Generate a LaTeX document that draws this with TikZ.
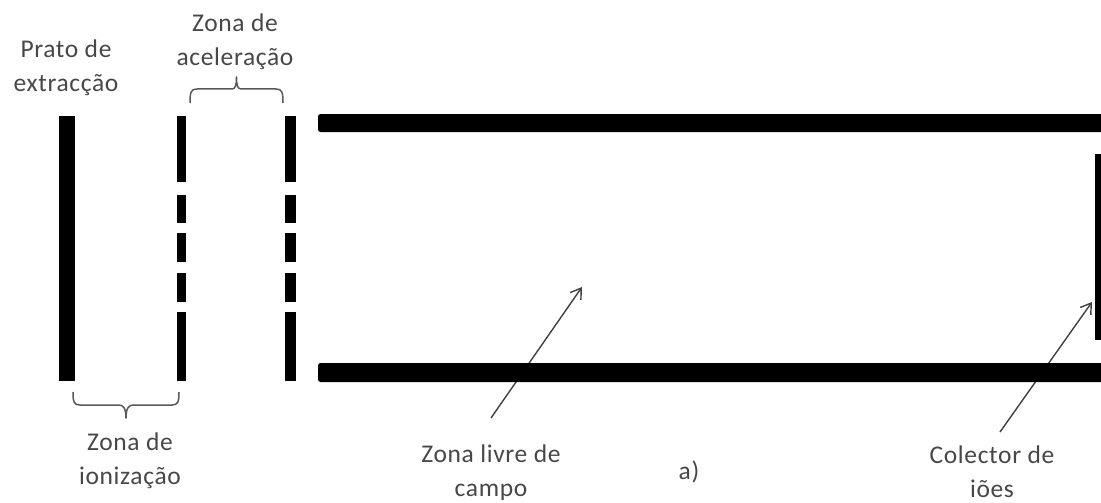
\documentclass[tikz,border=0pt]{standalone}
\usepackage{fontspec}
\setmainfont[LetterSpace=2.5]{Carlito}
\usetikzlibrary{arrows.meta}
\begin{document}
\begin{tikzpicture}[x=1pt,y=-1pt,
  plate/.style={fill=black,draw=none},
  bar/.style={fill=black,draw=none,rounded corners=2.5pt},
  lbl/.style={font=\fontsize{25.5}{34}\selectfont,text=black!72,align=center,inner sep=0pt,anchor=center},
  pointer/.style={draw=black!75,line width=1.4pt,-{Straight Barb[length=10pt,width=13pt,line width=1.4pt]}},
  brc/.style={draw=black!65,line width=1.5pt,line join=round}]
\useasboundingbox (0,0) rectangle (1101,503);
% pointers lie behind the bars
\coordinate (fieldtail) at (491,418);
\coordinate (fieldhead) at (582,287);
\coordinate (colltail) at (1000,432);
\coordinate (collhead) at (1092,302);
\draw[pointer] (fieldtail) -- (fieldhead);
\draw[pointer] (colltail) -- (collhead);
% extraction plate
\fill[plate] (59,116) rectangle (75,380.5);
% ionisation grid
\foreach \a/\b in {116/182,195/222.5,233/262,273/301.5,312/380.5}{
  \fill[plate] (177,\a) rectangle (186,\b);
  \fill[plate] (285,\a) rectangle (296,\b);
}
% tube
\fill[bar] (318,114) rectangle (1110,132);
\fill[bar] (318,363) rectangle (1110,382);
\fill[plate] (1095,154) rectangle (1101,340);
% braces
\draw[brc] (190,103) .. controls (190,92) and (191,89) .. (197,89) -- (232,89) .. controls (235,89) and (236.5,86) .. (236.5,77)
  .. controls (236.5,86) and (238,89) .. (241,89) -- (276,89) .. controls (282,89) and (283,92) .. (283,103);
\draw[brc] (73,392) .. controls (73,402) and (74,405) .. (80,405) -- (119,405) .. controls (123,405) and (126,408) .. (126,418)
  .. controls (126,408) and (129,405) .. (133,405) -- (172,405) .. controls (178,405) and (179,402) .. (179,392);
% labels
\node[lbl] (prato) at (66,68) {Prato de\\extracção};
\node[lbl] (acel) at (235,42) {Zona de\\aceleração};
\node[lbl] (ioni) at (130,461) {Zona de\\ionização};
\node[lbl] (livre) at (491,473) {Zona livre de\\campo};
\node[lbl] (alin) at (689,472) {a)};
\node[lbl] (colect) at (992,472) {Colector de\\iões};
\end{tikzpicture}
\end{document}
